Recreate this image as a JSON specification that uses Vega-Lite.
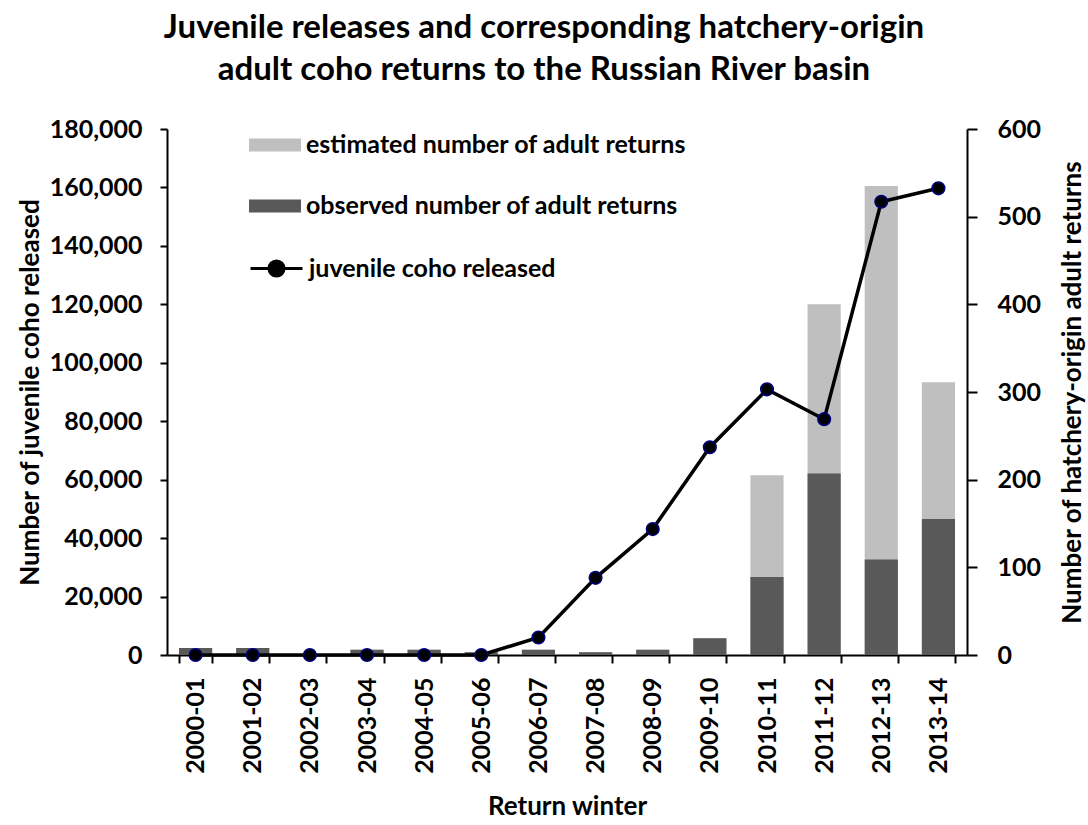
{
  "$schema": "https://vega.github.io/schema/vega-lite/v6.json",
  "width": 800,
  "height": 526,
  "autosize": {"type": "none"},
  "padding": {"left": 167, "top": 129, "right": 121, "bottom": 170},
  "background": "white",
  "title": {
    "text": ["Juvenile releases and corresponding hatchery-origin", "adult coho returns to the Russian River basin"],
    "font": "Lato", "fontSize": 33, "fontWeight": "bold", "color": "black",
    "lineHeight": 42, "anchor": "middle", "dx": -23, "offset": 30
  },
  "data": {
    "values": [
      {"winter": "2000-01", "released": 0, "estimated": 8, "observed": 8},
      {"winter": "2001-02", "released": 0, "estimated": 8, "observed": 8},
      {"winter": "2002-03", "released": 0, "estimated": 0, "observed": 0},
      {"winter": "2003-04", "released": 0, "estimated": 6, "observed": 6},
      {"winter": "2004-05", "released": 0, "estimated": 6, "observed": 6},
      {"winter": "2005-06", "released": 0, "estimated": 3, "observed": 3},
      {"winter": "2006-07", "released": 6000, "estimated": 6, "observed": 6},
      {"winter": "2007-08", "released": 26400, "estimated": 3, "observed": 3},
      {"winter": "2008-09", "released": 43100, "estimated": 6, "observed": 6},
      {"winter": "2009-10", "released": 71100, "estimated": 19, "observed": 19},
      {"winter": "2010-11", "released": 90900, "estimated": 205, "observed": 89},
      {"winter": "2011-12", "released": 80700, "estimated": 400, "observed": 207},
      {"winter": "2012-13", "released": 155100, "estimated": 535, "observed": 109},
      {"winter": "2013-14", "released": 159700, "estimated": 311, "observed": 155}
    ]
  },
  "encoding": {
    "x": {
      "field": "winter", "type": "ordinal", "title": "Return winter",
      "scale": {"paddingInner": 0.42, "paddingOuter": 0.21},
      "axis": {
        "labelAngle": -90, "labelPadding": 14, "tickSize": 8, "tickBand": "extent",
        "titlePadding": 20
      }
    }
  },
  "layer": [
    {
      "transform": [{"fold": ["estimated", "observed"], "as": ["series", "count"]}],
      "mark": {"type": "bar"},
      "encoding": {
        "y": {
          "field": "count", "type": "quantitative", "stack": null,
          "scale": {"domain": [0, 600]},
          "axis": {
            "orient": "right", "values": [0, 100, 200, 300, 400, 500, 600],
            "labelPadding": 20, "tickSize": 10,
            "title": "Number of hatchery-origin adult returns",
            "titleAngle": 270, "titlePadding": 45
          }
        },
        "color": {
          "field": "series", "type": "nominal",
          "scale": {"domain": ["estimated", "observed"], "range": ["#BFBFBF", "#595959"]},
          "legend": {
            "orient": "none", "legendX": 82, "legendY": -10, "title": null, "padding": 0,
            "symbolType": "M-1,-0.25H1V0.25H-1Z", "symbolSize": 2704, "symbolStrokeWidth": 0,
            "symbolOpacity": 1,
            "labelFont": "Lato", "labelFontSize": 25, "labelFontWeight": "bold", "labelColor": "black",
            "rowPadding": 22, "labelOffset": 5, "labelLimit": 600,
            "labelExpr": "datum.value == 'estimated' ? 'estimated number of adult returns' : 'observed number of adult returns'"
          }
        }
      }
    },
    {
      "encoding": {
        "y": {
          "field": "released", "type": "quantitative",
          "scale": {"domain": [0, 180000]},
          "axis": {
            "orient": "left",
            "values": [0, 20000, 40000, 60000, 80000, 100000, 120000, 140000, 160000, 180000],
            "format": ",d", "labelPadding": 18, "tickSize": 7,
            "title": "Number of juvenile coho released", "titlePadding": 6
          }
        }
      },
      "layer": [
        {
          "mark": {"type": "line", "strokeWidth": 3.5},
          "encoding": {
            "stroke": {
              "datum": "juvenile coho released",
              "scale": {"range": ["black"]},
              "legend": {
                "orient": "none", "legendX": 82, "legendY": 112, "title": null, "padding": 0,
                "symbolType": "M-1,0H1M0.29,0A0.29,0.29 0 1,1 -0.29,0A0.29,0.29 0 1,1 0.29,0Z",
                "symbolSize": 2704, "symbolStrokeWidth": 3, "symbolStrokeColor": "black",
                "symbolFillColor": "black",
                "labelFont": "Lato", "labelFontSize": 25, "labelFontWeight": "bold", "labelColor": "black",
                "labelOffset": 5, "labelLimit": 600,
                "encode": {"symbols": {"update": {"fill": {"value": "black"}, "stroke": {"value": "black"}}}}
              }
            }
          }
        },
        {
          "mark": {"type": "point", "filled": true, "fill": "black", "stroke": "#000080", "strokeWidth": 1.5, "size": 160, "opacity": 1}
        }
      ]
    }
  ],
  "resolve": {"scale": {"y": "independent"}},
  "config": {
    "font": "Lato",
    "view": {"stroke": null},
    "axis": {
      "labelFont": "Lato", "labelFontSize": 25, "labelFontWeight": "bold", "labelColor": "black",
      "titleFont": "Lato", "titleFontSize": 26, "titleFontWeight": "bold", "titleColor": "black",
      "domainColor": "black", "domainWidth": 2, "tickColor": "black", "tickWidth": 2, "grid": false
    }
  }
}
